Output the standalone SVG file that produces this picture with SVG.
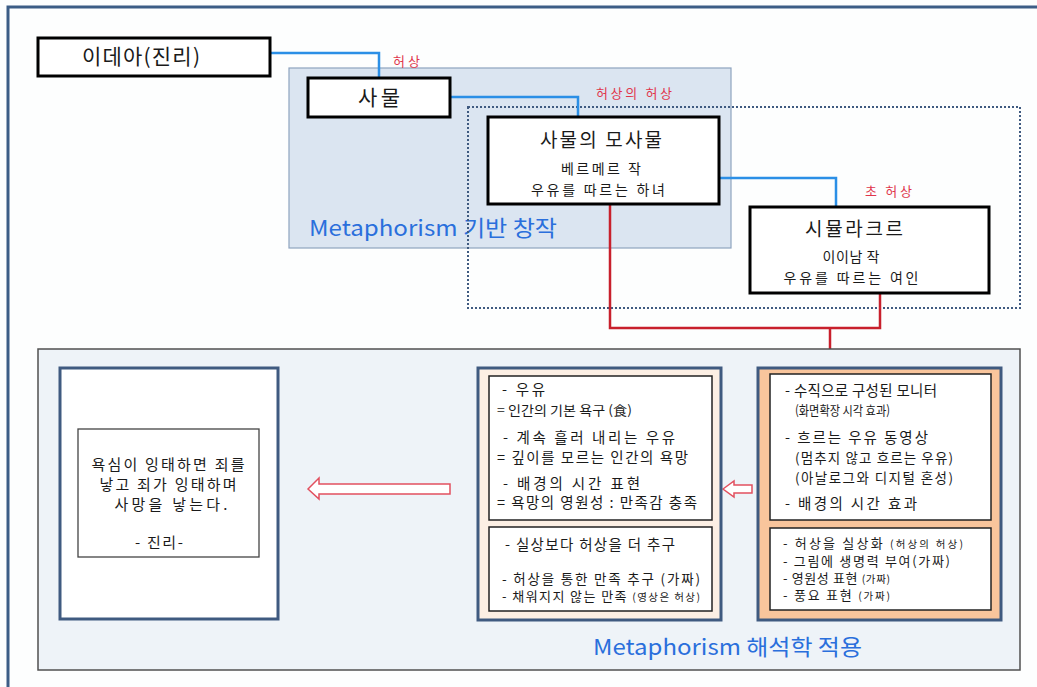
<svg xmlns="http://www.w3.org/2000/svg" width="1037" height="687" viewBox="0 0 1037 687">
<style>
text{font-family:"Noto Sans CJK KR","Noto Sans",sans-serif;fill:#1a1a1a}
.big{font-size:21px}
.mid{font-size:19px}
.sm{font-size:14px}
.t{font-size:14.5px}
.lt{font-size:15px}
.tiny{font-size:10.5px}
.red{fill:#e0364c;font-size:13px}
.meta{fill:#2a6fdc;font-size:22px}
.blk{fill:#fff;stroke:#000;stroke-width:3}
.blue{fill:none;stroke:#2b8fe6;stroke-width:2.5}
.redl{fill:none;stroke:#c8202c;stroke-width:2.5}
.panel{stroke:#3f5a80;stroke-width:3}
.inner{fill:#fff;stroke:#222;stroke-width:1.5}
.harrow{fill:#fff;stroke:#e2505f;stroke-width:1.5}
</style>
<rect x="0" y="0" width="1037" height="687" fill="#fdfefe"/>
<rect id="frame" x="8" y="7" width="1040" height="700" fill="#fdfefe" stroke="#3c5d86" stroke-width="3"/>

<g id="container-top">
<rect x="289" y="68" width="442" height="180" fill="#dbe5f1" stroke="#8ea3bf" stroke-width="1.2"/>
<text class="meta" x="309" y="236" textLength="248" lengthAdjust="spacingAndGlyphs">Metaphorism 기반 창작</text>
</g>
<g id="dotted-group">
<rect x="468" y="107" width="552" height="201" fill="none" stroke="#3f5a80" stroke-width="2" stroke-dasharray="2 2"/>
</g>

<g id="connectors">
<polyline class="blue" points="270,53 379,53 379,78"/>
<polyline class="blue" points="450,97 578,97 578,117"/>
<polyline class="blue" points="719,178 836,178 836,207"/>
<polyline class="redl" points="610,204 610,328 880,328 880,293"/>
<polyline class="redl" points="830,328 830,368"/>
<text class="red" x="393" y="66" textLength="27">허상</text>
<text class="red" x="596" y="98" textLength="76">허상의 허상</text>
<text class="red" x="865" y="196" textLength="47">초 허상</text>
</g>

<g id="idea">
<rect class="blk" x="38" y="38" width="232" height="38"/>
<text class="big" x="141" y="64" text-anchor="middle" textLength="118">이데아(진리)</text>
</g>
<g id="thing">
<rect class="blk" x="308" y="78" width="142" height="39"/>
<text class="big" x="379" y="105" text-anchor="middle" textLength="42">사물</text>
</g>
<g id="copy">
<rect class="blk" x="488" y="117" width="231" height="87"/>
<text class="mid" x="601" y="147" text-anchor="middle" textLength="122">사물의 모사물</text>
<text class="sm" x="601" y="174" text-anchor="middle" textLength="80">베르메르 작</text>
<text class="sm" x="598" y="195" text-anchor="middle" textLength="134">우유를 따르는 하녀</text>
</g>
<g id="simulacre">
<rect class="blk" x="750" y="207" width="239" height="86"/>
<text class="mid" x="854" y="236" text-anchor="middle" textLength="98">시뮬라크르</text>
<text class="sm" x="851" y="262" text-anchor="middle" textLength="57">이이남 작</text>
<text class="sm" x="851" y="283" text-anchor="middle" textLength="135">우유를 따르는 여인</text>
</g>

<g id="container-bottom">
<rect x="38" y="349" width="982" height="321" fill="#eef3f8" stroke="#505050" stroke-width="1.5"/>
<text class="meta" x="593" y="655" textLength="269" lengthAdjust="spacingAndGlyphs">Metaphorism 해석학 적용</text>
</g>

<g id="truth">
<rect class="panel" x="60" y="368" width="218" height="251" fill="#fff"/>
<rect x="78" y="429" width="181" height="128" fill="#fff" stroke="#444" stroke-width="1.3"/>
<text class="lt" x="168" y="470" text-anchor="middle" textLength="153">욕심이 잉태하면 죄를</text>
<text class="lt" x="168" y="490" text-anchor="middle" textLength="137">낳고 죄가 잉태하며</text>
<text class="lt" x="171" y="510" text-anchor="middle" textLength="113">사망을 낳는다.</text>
<text class="lt" x="159" y="548" text-anchor="middle" textLength="48">- 진리-</text>
</g>

<g id="arrow-left">
<polygon class="harrow" points="308,489 319,478 319,484 450,484 450,494 319,494 319,499"/>
</g>
<g id="arrow-small">
<polygon class="harrow" points="723,489 734,481 734,485 752,485 752,493 734,493 734,497"/>
</g>

<g id="interpretation">
<rect class="panel" x="478" y="368" width="243" height="252" fill="#fcefe4"/>
<rect class="inner" x="489" y="376" width="223" height="144"/>
<text class="t" x="502" y="395" textLength="43">-  우유</text>
<text x="497" y="415" style="font-size:13px" textLength="135" lengthAdjust="spacingAndGlyphs">= 인간의 기본 욕구 (食)</text>
<text class="t" x="503" y="443" textLength="172">-  계속 흘러 내리는 우유</text>
<text class="t" x="497" y="463" textLength="191">= 깊이를 모르는 인간의 욕망</text>
<text class="t" x="503" y="489" textLength="137">-  배경의 시간 표현</text>
<text class="t" x="497" y="508" textLength="200">= 욕망의 영원성 : 만족감 충족</text>
<rect class="inner" x="489" y="527" width="223" height="84"/>
<text class="t" x="505" y="550" textLength="170">-  실상보다 허상을 더 추구</text>
<text style="font-size:13.5px" x="502" y="584" textLength="198">- 허상을 통한 만족 추구 (가짜)</text>
<text style="font-size:13px" x="502" y="601" textLength="198">- 채워지지 않는 만족 <tspan class="tiny">(영상은 허상)</tspan></text>
</g>

<g id="work">
<rect class="panel" x="758" y="368" width="243" height="252" fill="#f9c59c"/>
<rect class="inner" x="770" y="374" width="221" height="146"/>
<text class="t" x="785" y="396" textLength="152">- 수직으로 구성된 모니터</text>
<text style="font-size:13px" x="795" y="415" textLength="95" lengthAdjust="spacingAndGlyphs">(화면확장 시각 효과)</text>
<text class="t" x="785" y="443" textLength="143">- 흐르는 우유 동영상</text>
<text style="font-size:13.5px" x="795" y="463" textLength="158">(멈추지 않고 흐르는 우유)</text>
<text style="font-size:13.5px" x="795" y="483" textLength="158">(아날로그와 디지털 혼성)</text>
<text class="t" x="785" y="509" textLength="132">-  배경의 시간 효과</text>
<rect class="inner" x="770" y="528" width="221" height="82"/>
<text style="font-size:13px" x="783" y="548" textLength="180">- 허상을 실상화 <tspan class="tiny">(허상의 허상)</tspan></text>
<text style="font-size:13px" x="783" y="566" textLength="167">- 그림에 생명력 부여(가짜)</text>
<text style="font-size:13px" x="783" y="583" textLength="107">- 영원성 표현 <tspan class="tiny">(가짜)</tspan></text>
<text style="font-size:13px" x="783" y="600" textLength="107">- 풍요 표현 <tspan class="tiny">(가짜)</tspan></text>
</g>
</svg>
